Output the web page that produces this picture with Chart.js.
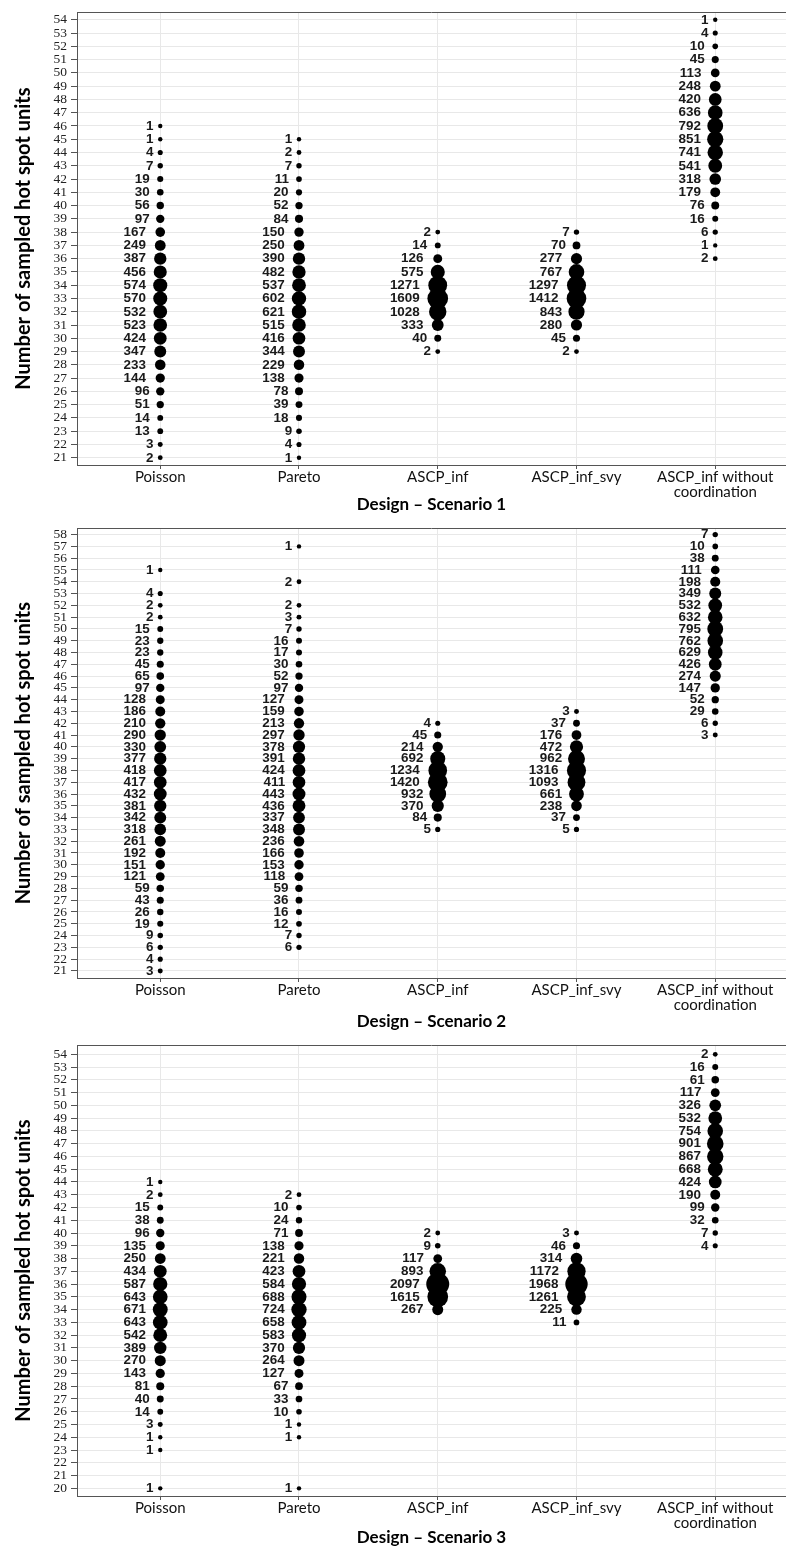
<!DOCTYPE html>
<html>
<head>
<meta charset="utf-8">
<script src="https://cdn.jsdelivr.net/npm/chart.js@4.4.1/dist/chart.umd.min.js"></script>
<style>
html,body{margin:0;padding:0;background:#fff;overflow:hidden;width:786px;height:1548px;}
.panel{position:absolute;left:0;width:786px;}
canvas{display:block;}
</style>
</head>
<body>
<div class="panel" style="top:0px;height:516px"><canvas id="c1" width="786" height="516"></canvas></div>
<div class="panel" style="top:516px;height:517px"><canvas id="c2" width="786" height="517"></canvas></div>
<div class="panel" style="top:1033px;height:516px"><canvas id="c3" width="786" height="516"></canvas></div>
<script>
// ---------------- DATA ----------------
const CATEGORIES = ['Poisson', 'Pareto', 'ASCP_inf', 'ASCP_inf_svy', 'ASCP_inf without coordination'];
const CATEGORY_TICK_LABELS = ['Poisson', 'Pareto', 'ASCP_inf', 'ASCP_inf_svy', ['ASCP_inf without', 'coordination']];
const Y_TITLE = 'Number of sampled hot spot units';
const X_TITLES = ['Design \u2013 Scenario 1', 'Design \u2013 Scenario 2', 'Design \u2013 Scenario 3'];

// Scenario 1
const S1_Y_TICKS = [21,22,23,24,25,26,27,28,29,30,31,32,33,34,35,36,37,38,39,40,41,42,43,44,45,46,47,48,49,50,51,52,53,54];
const S1_POISSON_Y = [46,45,44,43,42,41,40,39,38,37,36,35,34,33,32,31,30,29,28,27,26,25,24,23,22,21];
const S1_POISSON_N = [1,1,4,7,19,30,56,97,167,249,387,456,574,570,532,523,424,347,233,144,96,51,14,13,3,2];
const S1_PARETO_Y = [45,44,43,42,41,40,39,38,37,36,35,34,33,32,31,30,29,28,27,26,25,24,23,22,21];
const S1_PARETO_N = [1,2,7,11,20,52,84,150,250,390,482,537,602,621,515,416,344,229,138,78,39,18,9,4,1];
const S1_INF_Y = [38,37,36,35,34,33,32,31,30,29];
const S1_INF_N = [2,14,126,575,1271,1609,1028,333,40,2];
const S1_SVY_Y = [38,37,36,35,34,33,32,31,30,29];
const S1_SVY_N = [7,70,277,767,1297,1412,843,280,45,2];
const S1_NOCOORD_Y = [54,53,52,51,50,49,48,47,46,45,44,43,42,41,40,39,38,37,36];
const S1_NOCOORD_N = [1,4,10,45,113,248,420,636,792,851,741,541,318,179,76,16,6,1,2];

// Scenario 2
const S2_Y_TICKS = [21,22,23,24,25,26,27,28,29,30,31,32,33,34,35,36,37,38,39,40,41,42,43,44,45,46,47,48,49,50,51,52,53,54,55,56,57,58];
const S2_POISSON_Y = [55,53,52,51,50,49,48,47,46,45,44,43,42,41,40,39,38,37,36,35,34,33,32,31,30,29,28,27,26,25,24,23,22,21];
const S2_POISSON_N = [1,4,2,2,15,23,23,45,65,97,128,186,210,290,330,377,418,417,432,381,342,318,261,192,151,121,59,43,26,19,9,6,4,3];
const S2_PARETO_Y = [57,54,52,51,50,49,48,47,46,45,44,43,42,41,40,39,38,37,36,35,34,33,32,31,30,29,28,27,26,25,24,23];
const S2_PARETO_N = [1,2,2,3,7,16,17,30,52,97,127,159,213,297,378,391,424,411,443,436,337,348,236,166,153,118,59,36,16,12,7,6];
const S2_INF_Y = [42,41,40,39,38,37,36,35,34,33];
const S2_INF_N = [4,45,214,692,1234,1420,932,370,84,5];
const S2_SVY_Y = [43,42,41,40,39,38,37,36,35,34,33];
const S2_SVY_N = [3,37,176,472,962,1316,1093,661,238,37,5];
const S2_NOCOORD_Y = [58,57,56,55,54,53,52,51,50,49,48,47,46,45,44,43,42,41];
const S2_NOCOORD_N = [7,10,38,111,198,349,532,632,795,762,629,426,274,147,52,29,6,3];

// Scenario 3
const S3_Y_TICKS = [20,21,22,23,24,25,26,27,28,29,30,31,32,33,34,35,36,37,38,39,40,41,42,43,44,45,46,47,48,49,50,51,52,53,54];
const S3_POISSON_Y = [44,43,42,41,40,39,38,37,36,35,34,33,32,31,30,29,28,27,26,25,24,23,20];
const S3_POISSON_N = [1,2,15,38,96,135,250,434,587,643,671,643,542,389,270,143,81,40,14,3,1,1,1];
const S3_PARETO_Y = [43,42,41,40,39,38,37,36,35,34,33,32,31,30,29,28,27,26,25,24,20];
const S3_PARETO_N = [2,10,24,71,138,221,423,584,688,724,658,583,370,264,127,67,33,10,1,1,1];
const S3_INF_Y = [40,39,38,37,36,35,34];
const S3_INF_N = [2,9,117,893,2097,1615,267];
const S3_SVY_Y = [40,39,38,37,36,35,34,33];
const S3_SVY_N = [3,46,314,1172,1968,1261,225,11];
const S3_NOCOORD_Y = [54,53,52,51,50,49,48,47,46,45,44,43,42,41,40,39];
const S3_NOCOORD_N = [2,16,61,117,326,532,754,901,867,668,424,190,99,32,7,4];

// ---------------- STYLE / LAYOUT ----------------
const R_MIN = 2.2, R_MAX = 11.5;
const LABEL_STRETCH = 1.12;
const ALL_N = [].concat(S1_POISSON_N,S1_PARETO_N,S1_INF_N,S1_SVY_N,S1_NOCOORD_N,
  S2_POISSON_N,S2_PARETO_N,S2_INF_N,S2_SVY_N,S2_NOCOORD_N,
  S3_POISSON_N,S3_PARETO_N,S3_INF_N,S3_SVY_N,S3_NOCOORD_N);
const N_MIN = Math.min.apply(null, ALL_N), N_MAX = Math.max.apply(null, ALL_N);
function radiusFor(n) { return R_MIN + (R_MAX - R_MIN) * Math.sqrt((n - N_MIN) / (N_MAX - N_MIN)); }

const PANELS = [
  { id:'c1', title:X_TITLES[0], yTicks:S1_Y_TICKS, yMin:20.45, yMax:54.58, top:9, xh:51,
    series:[[S1_POISSON_Y,S1_POISSON_N],[S1_PARETO_Y,S1_PARETO_N],[S1_INF_Y,S1_INF_N],[S1_SVY_Y,S1_SVY_N],[S1_NOCOORD_Y,S1_NOCOORD_N]] },
  { id:'c2', title:X_TITLES[1], yTicks:S2_Y_TICKS, yMin:20.4, yMax:58.55, top:6, xh:55,
    series:[[S2_POISSON_Y,S2_POISSON_N],[S2_PARETO_Y,S2_PARETO_N],[S2_INF_Y,S2_INF_N],[S2_SVY_Y,S2_SVY_N],[S2_NOCOORD_Y,S2_NOCOORD_N]] },
  { id:'c3', title:X_TITLES[2], yTicks:S3_Y_TICKS, yMin:19.4, yMax:54.72, top:3, xh:53,
    series:[[S3_POISSON_Y,S3_POISSON_N],[S3_PARETO_Y,S3_PARETO_N],[S3_INF_Y,S3_INF_N],[S3_SVY_Y,S3_SVY_N],[S3_NOCOORD_Y,S3_NOCOORD_N]] }
];

const countLabels = {
  id: 'countLabels',
  afterDatasetsDraw(chart) {
    const ctx = chart.ctx;
    ctx.save();
    ctx.font = 'bold 12px "Liberation Sans", Arial, sans-serif';
    ctx.fillStyle = '#1a1a1a';
    ctx.textAlign = 'right';
    ctx.textBaseline = 'middle';
    chart.data.datasets.forEach((ds, di) => {
      const meta = chart.getDatasetMeta(di);
      meta.data.forEach((el, i) => {
        const txt = String(ds.data[i].n);
        const w = ctx.measureText(txt).width * LABEL_STRETCH;
        const right = el.x - 3 - 0.5 * w;
        ctx.save();
        ctx.translate(right, el.y + 0.5);
        ctx.scale(LABEL_STRETCH, 1);
        ctx.fillText(txt, 0, 0);
        ctx.restore();
      });
    });
    ctx.restore();
  }
};

const frameTop = {
  id: 'frameTop',
  afterDraw(chart) {
    const a = chart.chartArea, ctx = chart.ctx;
    ctx.save();
    ctx.strokeStyle = '#555';
    ctx.lineWidth = 1;
    ctx.beginPath();
    ctx.moveTo(a.left, Math.round(a.top) + 0.5);
    ctx.lineTo(a.right, Math.round(a.top) + 0.5);
    ctx.stroke();
    ctx.restore();
  }
};

function makePanel(p) {
  const datasets = p.series.map((s, ci) => ({
    label: CATEGORIES[ci],
    data: s[0].map((y, i) => ({ x: ci + 1, y: y, n: s[1][i] })),
    pointBackgroundColor: '#000',
    pointBorderWidth: 0,
    pointBorderColor: '#000',
    pointRadius: (c) => radiusFor(c.raw.n),
    pointHoverRadius: (c) => radiusFor(c.raw.n),
    clip: false
  }));
  new Chart(document.getElementById(p.id), {
    type: 'scatter',
    data: { datasets },
    plugins: [countLabels, frameTop],
    options: {
      responsive: false,
      animation: false,
      devicePixelRatio: 1,
      events: [],
      layout: { padding: { top: p.top, left: 0, right: 0, bottom: 0 }, autoPadding: false },
      plugins: { legend: { display: false }, tooltip: { enabled: false } },
      scales: {
        x: {
          type: 'linear', position: 'bottom', min: 0.4, max: 5.51,
          afterBuildTicks: (s) => { s.ticks = CATEGORIES.map((c, i) => ({ value: i + 1 })); },
          afterFit: (s) => { s.height = p.xh; },
          grid: { color: '#e8e8e8', lineWidth: 1, tickLength: 4, tickColor: '#555', drawTicks: true },
          border: { display: true, color: '#555', width: 1 },
          ticks: {
            autoSkip: false, maxRotation: 0, minRotation: 0, padding: 1, color: '#111',
            font: { family: 'Lato', size: 15, lineHeight: 1.0 },
            callback: (v) => CATEGORY_TICK_LABELS[Math.round(v) - 1]
          },
          title: { display: true, text: p.title, color: '#000',
            font: { family: 'Lato', weight: 'bold', size: 17 }, padding: { top: 0, bottom: 1 } }
        },
        y: {
          type: 'linear', min: p.yMin, max: p.yMax,
          afterBuildTicks: (s) => { s.ticks = p.yTicks.map((v) => ({ value: v })); },
          afterFit: (s) => { s.width = 77; },
          grid: { color: '#e8e8e8', lineWidth: 1, tickLength: 6, tickColor: '#555' },
          border: { display: true, color: '#555', width: 1 },
          ticks: { autoSkip: false, padding: 4, color: '#222',
            font: { family: '"Liberation Serif", "Times New Roman", serif', size: 13.5 },
            callback: (v) => String(v) },
          title: { display: true, text: Y_TITLE, color: '#000',
            font: { family: 'Lato', weight: 'bold', size: 20 }, padding: { top: 12, bottom: 0 } }
        }
      }
    }
  });
}

function drawAll() { PANELS.forEach(makePanel); }
const fontLoads = ['15px Lato', 'bold 17px Lato', 'bold 20px Lato', '13px "Liberation Serif"', 'bold 12px "Liberation Sans"']
  .map((f) => (document.fonts && document.fonts.load) ? document.fonts.load(f) : Promise.resolve());
Promise.all(fontLoads).then(drawAll, drawAll);
</script>
</body>
</html>
